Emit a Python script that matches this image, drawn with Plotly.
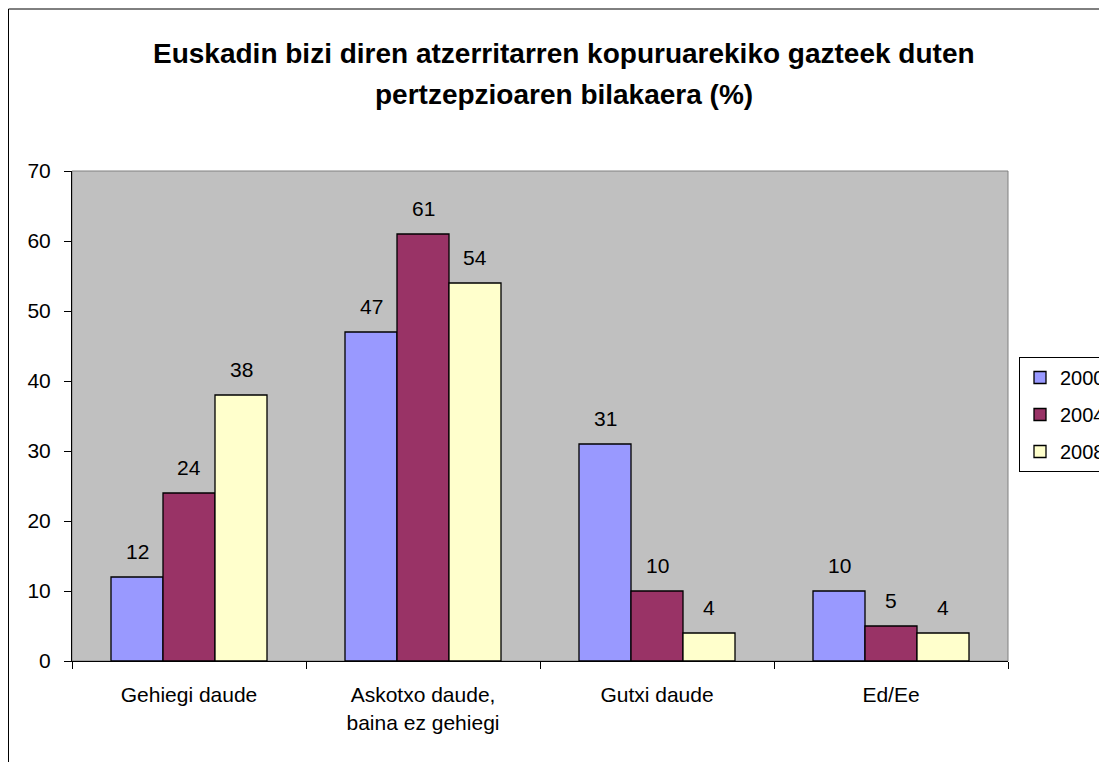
import plotly.graph_objects as go

categories = ["Gehiegi daude", "Askotxo daude,<br>baina ez gehiegi", "Gutxi daude", "Ed/Ee"]
years = ["2000", "2004", "2008"]
values_2000 = [12, 47, 31, 10]
values_2004 = [24, 61, 10, 5]
values_2008 = [38, 54, 4, 4]

title_line1 = "Euskadin bizi diren atzerritarren kopuruarekiko gazteek duten"
title_line2 = "pertzepzioaren bilakaera (%)"

colors = ["#9999FF", "#993366", "#FFFFCC"]
series = [values_2000, values_2004, values_2008]

# page body has an 8px margin, so figure pixels = reference pixels - 8
OFF = 8
W, H = 1107 - OFF, 762 - OFF
L, R, T, B = 72 - OFF, 1008 - OFF, 171 - OFF, 661 - OFF   # plot area
pw, ph = R - L, B - T

def px(x):
    return (x - L) / pw

def py(y):
    return (B - y) / ph

font = "Liberation Sans, Arial, sans-serif"
fs = 21

fig = go.Figure()
for name, vals, col in zip(years, series, colors):
    fig.add_trace(go.Bar(x=categories, y=vals, name=name, legendgroup=name,
                         marker=dict(color=col, line=dict(color="black", width=1.3))))

# data labels above the bars
bar_px = pw / 4 * (2 / 3) / 3
for i, vals in enumerate(series):
    for c, v in zip(categories, vals):
        fig.add_annotation(x=c, y=v, text=str(v), showarrow=False,
                           xshift=(i - 1) * bar_px, yshift=26, yanchor="middle",
                           font=dict(family=font, size=fs, color="black"))

# title, two lines
fig.add_annotation(x=px(556), y=py(45), xref="paper", yref="paper", text="<b>" + title_line1 + "</b>",
                   showarrow=False, yanchor="middle", font=dict(family=font, size=28, color="black"))
fig.add_annotation(x=px(556), y=py(87), xref="paper", yref="paper", text="<b>" + title_line2 + "</b>",
                   showarrow=False, yanchor="middle", font=dict(family=font, size=28, color="black"))

# plot frame and chart border
fig.add_shape(type="rect", xref="paper", yref="paper", x0=0, x1=1, y0=0, y1=1,
              line=dict(color="#808080", width=1), layer="below")
fig.add_shape(type="rect", xref="paper", yref="paper", x0=px(0.5), x1=px(W + 20), y0=py(H + 20), y1=py(1),
              line=dict(color="black", width=1))

fig.update_layout(
    width=W, height=H,
    margin=dict(l=L, r=W - R, t=T, b=H - B, autoexpand=False),
    paper_bgcolor="white", plot_bgcolor="#C0C0C0",
    barmode="group", bargap=1 / 3, bargroupgap=0,
    font=dict(family=font, size=fs, color="black"),
    showlegend=True,
    legend=dict(x=px(1019 - OFF), y=py(357 - OFF), xanchor="left", yanchor="top",
                bgcolor="white", bordercolor="black", borderwidth=1,
                font=dict(size=20), tracegroupgap=8, itemwidth=30),
    xaxis=dict(showline=True, linecolor="black", linewidth=1, ticks="outside", tickson="boundaries",
               ticklen=7, tickcolor="black", showgrid=False, ticklabelstandoff=15),
    yaxis=dict(range=[0, 70], dtick=10, showline=True, linecolor="black", linewidth=1,
               ticks="outside", ticklen=7, tickcolor="black", showgrid=False, zeroline=False,
               ticklabelstandoff=9),
)

fig.write_html("out.html")
